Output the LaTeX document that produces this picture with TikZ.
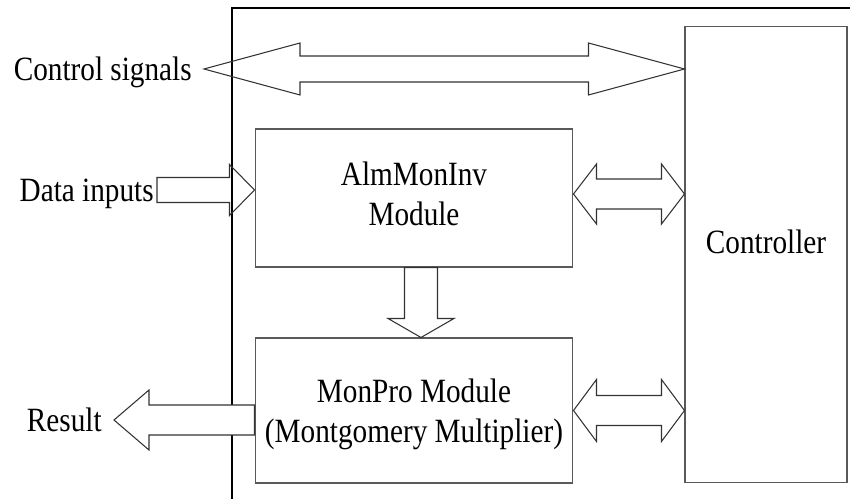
\documentclass[tikz,border=0pt]{standalone}
\usepackage{fontspec}
\setmainfont{Liberation Serif}
\usetikzlibrary{calc}

\tikzset{
  frame/.style={line width=0.6pt, black},
  modbox/.style={draw=black!65, line width=0.6pt, inner sep=0pt},
  blockarrow/.style={draw=black!80, line width=0.6pt, line join=miter},
  txt/.style={inner sep=0pt, text depth=0pt, align=center},
}

% squeeze text a little, as in the original drawing
\newcommand{\sq}[1]{\scalebox{0.86}[1]{#1}}

% double block arrow: left tip, right tip, head length, head half width, shaft half width
\newcommand{\dblarrow}[5]{%
  \draw[blockarrow] (#1) -- ++(#3,-#4) -- ++(0,#4-#5) -- ($(#2)+(-#3,-#5)$)
    -- ++(0,#5-#4) -- (#2) -- ++(-#3,#4) -- ++(0,#5-#4)
    -- ($(#1)+(#3,#5)$) -- ++(0,#4-#5) -- cycle;}

% single block arrow: tail, tip, head length (signed), head half width, shaft half width
\newcommand{\sglarrow}[6][]{%
  \draw[blockarrow,#1] (#3) -- ++({-(#4)},-#5) -- ++(0,#5-#6) -- ($(#2)+(0,-#6)$)
    -- ($(#2)+(0,#6)$) -- ($(#3)+({-(#4)},#6)$) -- ++(0,#5-#6) -- cycle;}

\begin{document}
\begin{tikzpicture}[x=0.02cm, y=-0.02cm, font=\fontsize{19.35}{22.76}\selectfont]
  \useasboundingbox (0,0) rectangle (850,499);

  % outer frame (open to the right and bottom)
  \draw[frame] (232,499) -- (232,8) -- (850,8);

  % modules
  \node[modbox, minimum width=6.36cm, minimum height=2.76cm,
        label={[txt, yshift=2.6pt]center:\sq{AlmMonInv}\\\sq{Module}}] (alm) at (414,198) {};
  \node[modbox, minimum width=6.36cm, minimum height=2.9cm,
        label={[txt]center:\sq{MonPro Module}\\\sq{(Montgomery Multiplier)}}] (mon) at (414,410.5) {};
  \node[modbox, minimum width=3.24cm, minimum height=9.14cm,
        label={[txt, yshift=7.3pt]center:\sq{Controller}}] (ctrl) at (766,254.5) {};

  % outside labels
  \node[txt, inner xsep=0.24cm, anchor=east] (sig) at (204,69) {\sq{Control signals}};
  \node[txt, inner xsep=0.06cm, anchor=east] (data) at (157,190) {\sq{Data inputs}};
  \node[txt, inner xsep=0.24cm, anchor=east] (res) at (114,420) {\sq{Result}};

  % control bus
  \dblarrow{sig.east}{ctrl.west |- sig.east}{96}{26}{13}

  % data in
  \sglarrow{data.east}{alm.west |- data.east}{25}{25.5}{12.5}

  % module <-> controller
  \dblarrow{$(alm.east)+(0,-4)$}{$(ctrl.west |- alm.east)+(0,-4)$}{23}{30}{15}
  \dblarrow{mon.east}{ctrl.west |- mon.east}{23}{31}{15}

  % AlmMonInv -> MonPro
  \coordinate (dtop) at ($(alm.south)+(7,0)$);
  \coordinate (dtip) at ($(mon.north)+(7,0)$);
  \draw[blockarrow] (dtip) -- ++(-33,-19) -- ++(16.5,0) -- ($(dtop)+(-16.5,0)$)
    -- ($(dtop)+(16.5,0)$) -- ($(dtip)+(16.5,-19)$) -- ++(16.5,0) -- cycle;

  % result out
  \sglarrow[fill=white]{mon.west |- res.east}{res.east}{-35}{30}{15}
\end{tikzpicture}
\end{document}
